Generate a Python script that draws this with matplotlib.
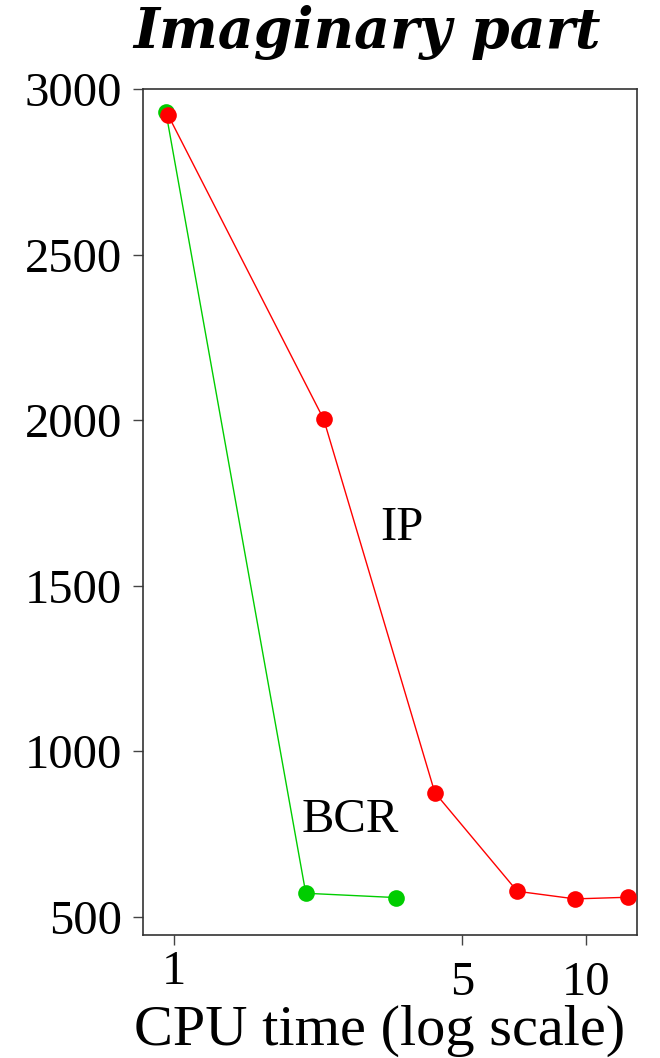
import numpy as np
import matplotlib.pyplot as plt
from matplotlib.ticker import FixedLocator, FixedFormatter

# CPU time (s) and objective value for each method
ip_time = [0.967, 2.31, 4.30, 6.82, 9.42, 12.69]
ip_value = [2922, 2003, 876, 578, 555, 560]
bcr_time = [0.956, 2.09, 3.46]
bcr_value = [2930, 572, 559]

y_ticks = [500, 1000, 1500, 2000, 2500, 3000]

plt.rcParams['font.family'] = ['Liberation Serif', 'DejaVu Serif']

fig = plt.figure(figsize=(6.6, 10.58), dpi=100)
ax = fig.add_axes([143 / 660, 1 - 935 / 1058, 494 / 660, 846 / 1058])

red = '#ff0000'
green = '#00cd00'
ax.plot(bcr_time, bcr_value, color=green, lw=1.0, marker='o', ms=12,
        markeredgewidth=0, zorder=2)
ax.plot(ip_time, ip_value, color=red, lw=1.0, marker='o', ms=12,
        markeredgewidth=0, zorder=3)

ax.text(3.58, 1674, 'IP', fontsize=35, ha='center', va='center')
ax.text(2.68, 793, 'BCR', fontsize=35, ha='center', va='center')

ax.set_xscale('log')
ax.set_xlim(0.841, 13.32)
ax.set_ylim(446, 3000)

# "1" sits a little higher than the other two labels
ax.xaxis.set_major_locator(FixedLocator([5, 10]))
ax.xaxis.set_major_formatter(FixedFormatter(['5', '10']))
ax.xaxis.set_minor_locator(FixedLocator([1]))
ax.xaxis.set_minor_formatter(FixedFormatter(['1']))
ax.set_yticks(y_ticks)
ax.set_yticklabels([str(v) for v in y_ticks])

ax.tick_params(axis='both', which='both', direction='out', length=7,
               width=1.0, color='#444444', labelsize=35)
ax.tick_params(axis='x', which='major', pad=12)
ax.tick_params(axis='x', which='minor', pad=4)
ax.tick_params(axis='y', pad=8)

for s in ax.spines.values():
    s.set_color('#333333')
    s.set_linewidth(1.2)

ax.set_xlabel('CPU time (log scale)', fontsize=42)
ax.xaxis.set_label_coords((380 - 143) / 494, (935 - 1045) / 846)
ax.xaxis.label.set_va('baseline')

fig.text(367 / 660, 1 - 48 / 1058, 'Imaginary part', fontsize=40,
         family='DejaVu Serif', weight='bold', style='italic',
         ha='center', va='baseline')

fig.savefig('out.png', dpi=100)
